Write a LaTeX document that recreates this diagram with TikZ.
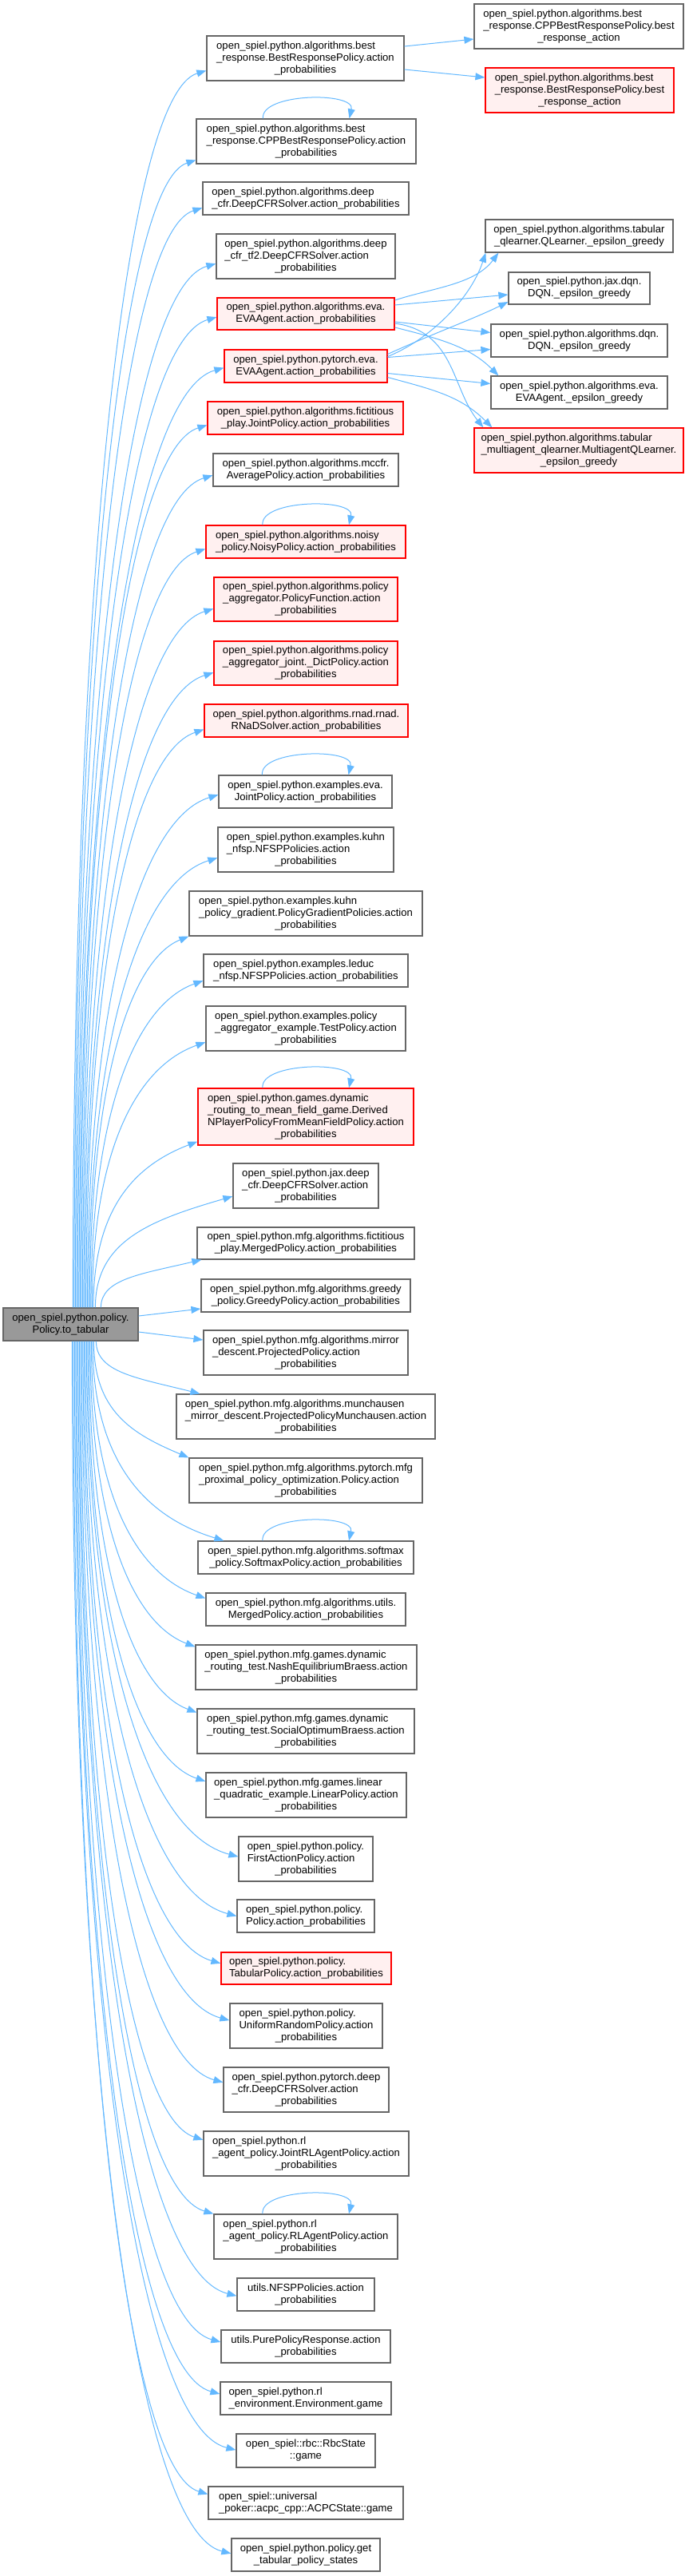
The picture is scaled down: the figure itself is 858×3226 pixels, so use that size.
\documentclass[tikz,border=0pt]{standalone}
\usepackage{fontspec}
\setmainfont{Liberation Sans}
\usetikzlibrary{arrows.meta,calc}
\definecolor{boxgray}{HTML}{666666}
\definecolor{boxred}{HTML}{FF0000}
\definecolor{boxredfill}{HTML}{FFF0F0}
\definecolor{rootfill}{HTML}{999999}
\definecolor{edgeblue}{HTML}{63B8FF}
\newcommand{\dxfont}{\fontsize{13.1}{15}\selectfont}
\newcommand{\lastc}[1]{\multicolumn{1}{@{}c@{}}{#1}}
\newcommand{\dbox}[7]{\node[#6, minimum width={(#4)-(#2)}, minimum height={(#5)-(#3)}] (#1) at ({((#2)+(#4))/2},{-((#3)+(#5))/2}) {\begin{tabular}{@{}l@{}}#7\end{tabular}};}
\newcommand{\Eup}[2]{\draw[conn] let \p1=([xshift=#1pt]root.north west), \p2=(#2), \n1={\x2-\x1}, \n2={\y2-\y1} in (\p1) .. controls (\x1,{\y1+0.6*\n2}) and ({\x2-0.6*\n1},{\y2-min(30,0.3*\n2)}) .. (\p2);}
\newcommand{\Edn}[2]{\draw[conn] let \p1=([xshift=#1pt]root.south west), \p2=(#2), \n1={\x2-\x1}, \n2={\y1-\y2} in (\p1) .. controls (\x1,{\y1-0.6*\n2}) and ({\x2-0.6*\n1},{\y2+min(30,0.3*\n2)}) .. (\p2);}
\tikzset{
  gbox/.style={draw=boxgray, fill=white, line width=1.2pt, inner sep=0pt, font=\dxfont},
  rbox/.style={gbox, draw=boxred, fill=boxredfill},
  rootbox/.style={gbox, fill=rootfill},
  conn/.style={draw=edgeblue, line width=1pt, -{Triangle[length=12pt,width=9pt]}},
}
\begin{document}
\begin{tikzpicture}[x=1pt,y=1pt]
\useasboundingbox (0,0) rectangle (858,-3226);
% right column
\dbox{R1}{594}{5}{856}{61}{gbox}{open\_spiel.python.algorithms.best\\\_response.CPPBestResponsePolicy.best\\\lastc{\_response\_action}}
\dbox{R2}{608}{85}{844}{141}{rbox}{open\_spiel.python.algorithms.best\\\_response.BestResponsePolicy.best\\\lastc{\_response\_action}}
\dbox{R3}{608}{275}{843}{316}{gbox}{open\_spiel.python.algorithms.tabular\\\lastc{\_qlearner.QLearner.\_epsilon\_greedy}}
\dbox{R4}{637}{341}{814}{381}{gbox}{open\_spiel.python.jax.dqn.\\\lastc{DQN.\_epsilon\_greedy}}
\dbox{R5}{615}{406}{836}{447}{gbox}{open\_spiel.python.algorithms.dqn.\\\lastc{DQN.\_epsilon\_greedy}}
\dbox{R6}{615}{471}{836}{512}{gbox}{open\_spiel.python.algorithms.eva.\\\lastc{EVAAgent.\_epsilon\_greedy}}
\dbox{R7}{594}{536}{856}{592}{rbox}{open\_spiel.python.algorithms.tabular\\\_multiagent\_qlearner.MultiagentQLearner.\\\lastc{\_epsilon\_greedy}}
% middle column
\dbox{M1}{259}{45}{506}{101}{gbox}{open\_spiel.python.algorithms.best\\\_response.BestResponsePolicy.action\\\lastc{\_probabilities}}
\dbox{M2}{246}{149}{521}{205}{gbox}{open\_spiel.python.algorithms.best\\\_response.CPPBestResponsePolicy.action\\\lastc{\_probabilities}}
\dbox{M3}{254}{228}{512}{269}{gbox}{open\_spiel.python.algorithms.deep\\\lastc{\_cfr.DeepCFRSolver.action\_probabilities}}
\dbox{M4}{271}{293}{495}{349}{gbox}{open\_spiel.python.algorithms.deep\\\_cfr\_tf2.DeepCFRSolver.action\\\lastc{\_probabilities}}
\dbox{M5}{272}{373}{494}{413}{rbox}{open\_spiel.python.algorithms.eva.\\\lastc{EVAAgent.action\_probabilities}}
\dbox{M6}{281}{438}{485}{479}{rbox}{open\_spiel.python.pytorch.eva.\\\lastc{EVAAgent.action\_probabilities}}
\dbox{M7}{260}{503}{505}{544}{rbox}{open\_spiel.python.algorithms.fictitious\\\lastc{\_play.JointPolicy.action\_probabilities}}
\dbox{M8}{267}{568}{499}{609}{gbox}{open\_spiel.python.algorithms.mccfr.\\\lastc{AveragePolicy.action\_probabilities}}
\dbox{M9}{258}{658}{508}{699}{rbox}{open\_spiel.python.algorithms.noisy\\\lastc{\_policy.NoisyPolicy.action\_probabilities}}
\dbox{M10}{268}{723}{498}{778}{rbox}{open\_spiel.python.algorithms.policy\\\_aggregator.PolicyFunction.action\\\lastc{\_probabilities}}
\dbox{M11}{268}{803}{498}{858}{rbox}{open\_spiel.python.algorithms.policy\\\_aggregator\_joint.\_DictPolicy.action\\\lastc{\_probabilities}}
\dbox{M12}{256}{882}{511}{923}{rbox}{open\_spiel.python.algorithms.rnad.rnad.\\\lastc{RNaDSolver.action\_probabilities}}
\dbox{M13}{274}{971}{491}{1012}{gbox}{open\_spiel.python.examples.eva.\\\lastc{JointPolicy.action\_probabilities}}
\dbox{M14}{273}{1036}{493}{1092}{gbox}{open\_spiel.python.examples.kuhn\\\_nfsp.NFSPPolicies.action\\\lastc{\_probabilities}}
\dbox{M15}{237}{1116}{529}{1172}{gbox}{open\_spiel.python.examples.kuhn\\\_policy\_gradient.PolicyGradientPolicies.action\\\lastc{\_probabilities}}
\dbox{M16}{255}{1195}{511}{1236}{gbox}{open\_spiel.python.examples.leduc\\\lastc{\_nfsp.NFSPPolicies.action\_probabilities}}
\dbox{M17}{258}{1260}{508}{1316}{gbox}{open\_spiel.python.examples.policy\\\_aggregator\_example.TestPolicy.action\\\lastc{\_probabilities}}
\dbox{M18}{248}{1363}{518}{1434}{rbox}{open\_spiel.python.games.dynamic\\\_routing\_to\_mean\_field\_game.Derived\\NPlayerPolicyFromMeanFieldPolicy.action\\\lastc{\_probabilities}}
\dbox{M19}{292}{1457}{474}{1513}{gbox}{open\_spiel.python.jax.deep\\\_cfr.DeepCFRSolver.action\\\lastc{\_probabilities}}
\dbox{M20}{247}{1537}{519}{1577}{gbox}{open\_spiel.python.mfg.algorithms.fictitious\\\lastc{\_play.MergedPolicy.action\_probabilities}}
\dbox{M21}{252}{1602}{514}{1643}{gbox}{open\_spiel.python.mfg.algorithms.greedy\\\lastc{\_policy.GreedyPolicy.action\_probabilities}}
\dbox{root}{4}{1638}{173}{1679}{rootbox}{open\_spiel.python.policy.\\\lastc{Policy.to\_tabular}}
\dbox{M22}{255}{1666}{511}{1722}{gbox}{open\_spiel.python.mfg.algorithms.mirror\\\_descent.ProjectedPolicy.action\\\lastc{\_probabilities}}
\dbox{M23}{221}{1746}{545}{1802}{gbox}{open\_spiel.python.mfg.algorithms.munchausen\\\_mirror\_descent.ProjectedPolicyMunchausen.action\\\lastc{\_probabilities}}
\dbox{M24}{237}{1826}{529}{1882}{gbox}{open\_spiel.python.mfg.algorithms.pytorch.mfg\\\_proximal\_policy\_optimization.Policy.action\\\lastc{\_probabilities}}
\dbox{M25}{248}{1930}{518}{1971}{gbox}{open\_spiel.python.mfg.algorithms.softmax\\\lastc{\_policy.SoftmaxPolicy.action\_probabilities}}
\dbox{M26}{258}{1995}{508}{2036}{gbox}{open\_spiel.python.mfg.algorithms.utils.\\\lastc{MergedPolicy.action\_probabilities}}
\dbox{M27}{245}{2060}{522}{2116}{gbox}{open\_spiel.python.mfg.games.dynamic\\\_routing\_test.NashEquilibriumBraess.action\\\lastc{\_probabilities}}
\dbox{M28}{247}{2140}{519}{2196}{gbox}{open\_spiel.python.mfg.games.dynamic\\\_routing\_test.SocialOptimumBraess.action\\\lastc{\_probabilities}}
\dbox{M29}{258}{2220}{509}{2276}{gbox}{open\_spiel.python.mfg.games.linear\\\_quadratic\_example.LinearPolicy.action\\\lastc{\_probabilities}}
\dbox{M30}{299}{2300}{467}{2356}{gbox}{open\_spiel.python.policy.\\FirstActionPolicy.action\\\lastc{\_probabilities}}
\dbox{M31}{297}{2379}{469}{2420}{gbox}{open\_spiel.python.policy.\\\lastc{Policy.action\_probabilities}}
\dbox{M32}{277}{2445}{490}{2485}{rbox}{open\_spiel.python.policy.\\\lastc{TabularPolicy.action\_probabilities}}
\dbox{M33}{288}{2509}{479}{2565}{gbox}{open\_spiel.python.policy.\\UniformRandomPolicy.action\\\lastc{\_probabilities}}
\dbox{M34}{280}{2589}{487}{2645}{gbox}{open\_spiel.python.pytorch.deep\\\_cfr.DeepCFRSolver.action\\\lastc{\_probabilities}}
\dbox{M35}{255}{2669}{512}{2725}{gbox}{open\_spiel.python.rl\\\_agent\_policy.JointRLAgentPolicy.action\\\lastc{\_probabilities}}
\dbox{M36}{268}{2773}{498}{2829}{gbox}{open\_spiel.python.rl\\\_agent\_policy.RLAgentPolicy.action\\\lastc{\_probabilities}}
\dbox{M37}{297}{2853}{469}{2894}{gbox}{utils.NFSPPolicies.action\\\lastc{\_probabilities}}
\dbox{M38}{277}{2918}{489}{2959}{gbox}{utils.PurePolicyResponse.action\\\lastc{\_probabilities}}
\dbox{M39}{276}{2983}{490}{3024}{gbox}{open\_spiel.python.rl\\\lastc{\_environment.Environment.game}}
\dbox{M40}{296}{3048}{470}{3090}{gbox}{open\_spiel::rbc::RbcState\\\lastc{::game}}
\dbox{M41}{261}{3114}{505}{3155}{gbox}{open\_spiel::universal\\\lastc{\_poker::acpc\_cpp::ACPCState::game}}
\dbox{M42}{290}{3179}{476}{3220}{gbox}{open\_spiel.python.policy.get\\\lastc{\_tabular\_policy\_states}}
% edges from root upward
\Eup{88}{$(M1.south west)!0.23!(M1.north west)$}
\Eup{89.5}{$(M2.south west)!0.09!(M2.north west)$}
\Eup{91}{$(M3.south west)!0.22!(M3.north west)$}
\Eup{92.5}{$(M4.south west)!0.34!(M4.north west)$}
\Eup{94}{$(M5.south west)!0.4!(M5.north west)$}
\Eup{95.5}{$(M6.south west)!0.45!(M6.north west)$}
\Eup{97}{$(M7.south west)!0.29!(M7.north west)$}
\Eup{98.5}{$(M8.south west)!0.34!(M8.north west)$}
\Eup{100}{$(M9.south west)!0.29!(M9.north west)$}
\Eup{101.5}{$(M10.south west)!0.29!(M10.north west)$}
\Eup{103}{$(M11.south west)!0.29!(M11.north west)$}
\Eup{104.5}{$(M12.south west)!0.24!(M12.north west)$}
\Eup{106}{$(M13.south west)!0.41!(M13.north west)$}
\Eup{107.5}{$(M14.south west)!0.32!(M14.north west)$}
\Eup{109}{M15.south west}
\Eup{110.5}{$(M16.south west)!0.2!(M16.north west)$}
\Eup{112}{$(M17.south west)!0.2!(M17.north west)$}
\Eup{113.5}{$(M18.south west)!0.07!(M18.north west)$}
\Eup{116}{$(M19.south west)!0.27!(M19.north west)$}
\Eup{123}{[xshift=6pt]M20.south west}
% edges to the right of root
\draw[conn] ([yshift=10.5pt]root.east) -- ([yshift=-16.5pt]M21.west);
\draw[conn] ([yshift=-9.5pt]root.east) -- ([yshift=16pt]M22.west);
% edges from root downward
\Edn{117}{[xshift=30pt]M23.north west}
\Edn{114}{M24.north west}
\Edn{112.5}{[xshift=33pt]M25.north west}
\Edn{111}{$(M26.north west)!0.17!(M26.south west)$}
\Edn{109.5}{$(M27.north west)!0.05!(M27.south west)$}
\Edn{108}{$(M28.north west)!0.09!(M28.south west)$}
\Edn{106.5}{$(M29.north west)!0.2!(M29.south west)$}
\Edn{105}{$(M30.north west)!0.45!(M30.south west)$}
\Edn{103.5}{$(M31.north west)!0.5!(M31.south west)$}
\Edn{102}{$(M32.north west)!0.35!(M32.south west)$}
\Edn{100.5}{$(M33.north west)!0.38!(M33.south west)$}
\Edn{99}{$(M34.north west)!0.34!(M34.south west)$}
\Edn{97.5}{$(M35.north west)!0.2!(M35.south west)$}
\Edn{96}{M36.north west}
\Edn{94.5}{$(M37.north west)!0.54!(M37.south west)$}
\Edn{93}{$(M38.north west)!0.37!(M38.south west)$}
\Edn{91.5}{$(M39.north west)!0.37!(M39.south west)$}
\Edn{90}{$(M40.north west)!0.48!(M40.south west)$}
\Edn{88.5}{$(M41.north west)!0.24!(M41.south west)$}
\Edn{87}{$(M42.north west)!0.46!(M42.south west)$}
% self loops
\foreach \n in {M2,M9,M13,M18,M25,M36}
  \draw[conn] ([xshift=-54pt]\n.north) .. controls +(-4,32) and +(8,34) .. ([xshift=54pt]\n.north);
% middle to right column
\draw[conn] ([yshift=15pt]M1.east) -- ([yshift=-16pt]R1.west);
\draw[conn] ([yshift=-14pt]M1.east) -- ([yshift=16pt]R2.west);
\draw[conn] ([yshift=17pt]M5.east) .. controls +(45,15) and +(-30,-40) .. ([xshift=17pt]R3.south west);
\draw[conn] ([yshift=11pt]M5.east) -- ([yshift=-8pt]R4.west);
\draw[conn] ([yshift=-10pt]M5.east) -- ([yshift=10pt]R5.west);
\draw[conn] ([yshift=-17pt]M5.east) .. controls +(60,-15) and +(-35,35) .. ([xshift=10pt]R6.north west);
\draw[conn] ([yshift=-12pt]M5.east) .. controls +(75,-10) and +(-40,50) .. ([xshift=12pt]R7.north west);
\draw[conn] ([yshift=12pt]M6.east) .. controls +(50,20) and +(-20,-60) .. ([xshift=1pt]R3.south west);
\draw[conn] ([yshift=15pt]M6.east) .. controls +(55,25) and +(-40,-20) .. ([yshift=-17pt]R4.west);
\draw[conn] ([yshift=11pt]M6.east) -- ([yshift=-11pt]R5.west);
\draw[conn] ([yshift=-9pt]M6.east) -- ([yshift=11pt]R6.west);
\draw[conn] ([yshift=-14pt]M6.east) .. controls +(55,-15) and +(-40,40) .. ([xshift=23pt]R7.north west);
\end{tikzpicture}
\end{document}
